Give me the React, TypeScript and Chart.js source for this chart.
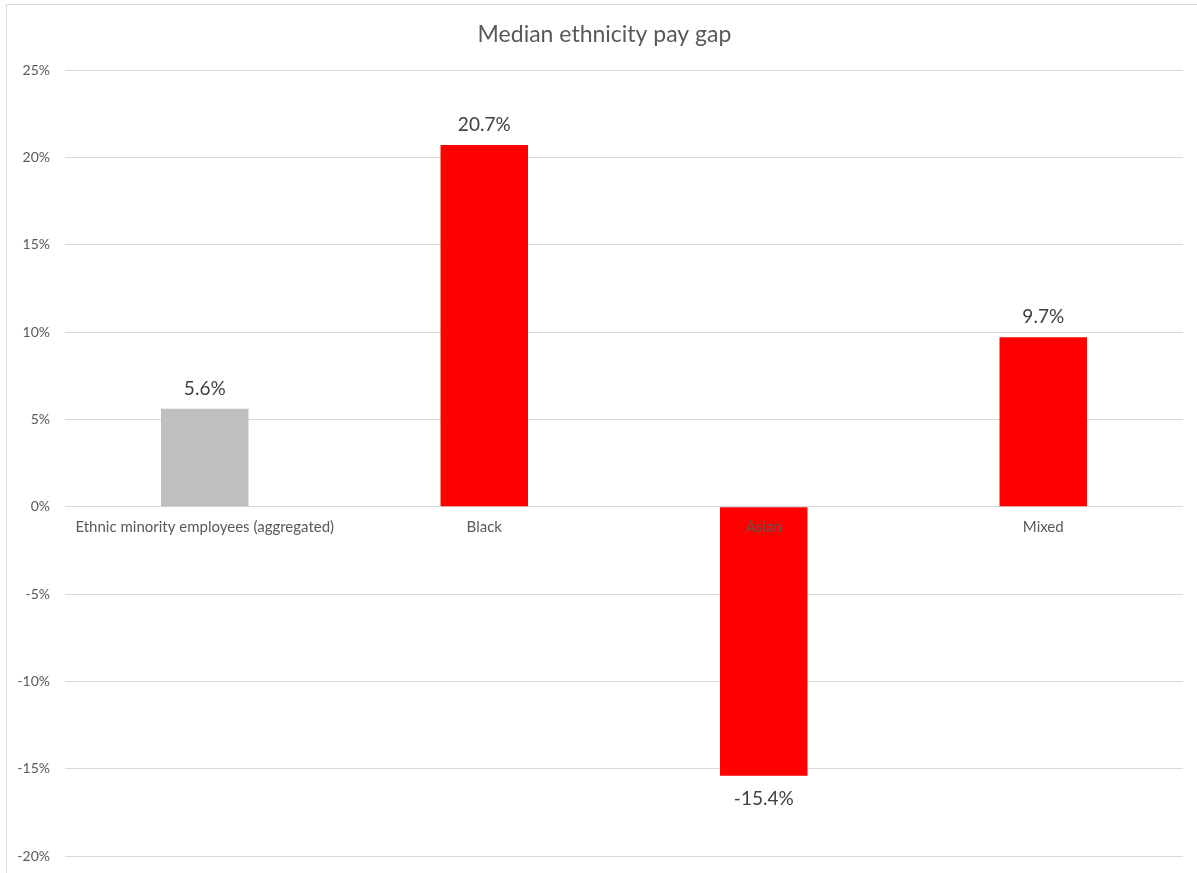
import React, { useEffect, useRef } from "react";
import { Chart, registerables } from "chart.js";

Chart.register(...registerables);

const categories: string[] = [
  "Ethnic minority employees (aggregated)",
  "Black",
  "Asian",
  "Mixed",
];
const payGap: number[] = [5.6, 20.7, -15.4, 9.7];
const barColors: string[] = ["#bfbfbf", "#ff0000", "#ff0000", "#ff0000"];
const yTicks: number[] = [-20, -15, -10, -5, 0, 5, 10, 15, 20, 25];
const chartTitle = "Median ethnicity pay gap";

const FONT = "Lato, 'Open Sans', sans-serif";

// White background, light frame around the chart object and the title,
// centred on the whole chart object (which runs past the right edge)
const framePlugin = {
  id: "frame",
  beforeDraw(chart: any) {
    const ctx = chart.ctx;
    ctx.save();
    ctx.fillStyle = "#ffffff";
    ctx.fillRect(0, 0, chart.width, chart.height);
    ctx.strokeStyle = "#d9d9d9";
    ctx.lineWidth = 1;
    ctx.strokeRect(6.5, 4.5, chart.width + 20, chart.height + 20);

    ctx.font = `23px ${FONT}`;
    ctx.fillStyle = "#595959";
    ctx.textAlign = "center";
    ctx.textBaseline = "alphabetic";
    ctx.fillText(chartTitle, chart.width / 2 + 6, 42);
    ctx.restore();
  },
};

// Category names along the zero line and value labels on each bar,
// painted after the bars so they stay on top
const labelsPlugin = {
  id: "barLabels",
  afterDatasetsDraw(chart: any) {
    const ctx = chart.ctx;
    const xScale = chart.scales.x;
    const yScale = chart.scales.y;
    const zeroY = yScale.getPixelForValue(0);
    ctx.save();
    ctx.textAlign = "center";
    ctx.textBaseline = "middle";

    ctx.font = `15px ${FONT}`;
    ctx.fillStyle = "#595959";
    categories.forEach((name, i) => {
      ctx.fillText(name, xScale.getPixelForValue(i), zeroY + 20);
    });

    ctx.font = `19px ${FONT}`;
    ctx.fillStyle = "#404040";
    const meta = chart.getDatasetMeta(0);
    meta.data.forEach((bar: any, i: number) => {
      const v = payGap[i];
      const y = v >= 0 ? bar.y - 20 : bar.y + 23;
      ctx.fillText(`${v.toFixed(1)}%`, bar.x, y);
    });
    ctx.restore();
  },
};

export default function App() {
  const canvasRef = useRef<HTMLCanvasElement | null>(null);

  useEffect(() => {
    const canvas = canvasRef.current;
    if (!canvas) return;
    const chart = new Chart(canvas, {
      type: "bar",
      data: {
        labels: categories,
        datasets: [
          {
            data: payGap,
            backgroundColor: barColors,
            borderWidth: 0,
            categoryPercentage: 1,
            barPercentage: 0.313,
          },
        ],
      },
      options: {
        responsive: false,
        animation: false,
        devicePixelRatio: 1,
        layout: { padding: { left: 0, right: 14, top: 70, bottom: 17 } },
        plugins: {
          legend: { display: false },
          tooltip: { enabled: false },
          title: { display: false },
        },
        scales: {
          x: {
            display: false,
          },
          y: {
            min: -20,
            max: 25,
            afterBuildTicks(scale: any) {
              scale.ticks = yTicks.map((v) => ({ value: v }));
            },
            afterFit(scale: any) {
              scale.width = 65;
              scale.paddingTop = 0;
              scale.paddingBottom = 0;
            },
            border: { display: false },
            grid: {
              color: "#d9d9d9",
              lineWidth: 1,
              drawTicks: false,
            },
            ticks: {
              padding: 15,
              color: "#595959",
              font: { family: FONT, size: 14 },
              callback: (v: any) => `${v}%`,
            },
          },
        },
      },
      plugins: [framePlugin, labelsPlugin],
    });
    return () => chart.destroy();
  }, []);

  return (
    <div
      style={{
        position: "fixed",
        left: 0,
        top: 0,
        width: 1197,
        height: 873,
        background: "#ffffff",
      }}
    >
      <canvas ref={canvasRef} width={1197} height={873} />
    </div>
  );
}
